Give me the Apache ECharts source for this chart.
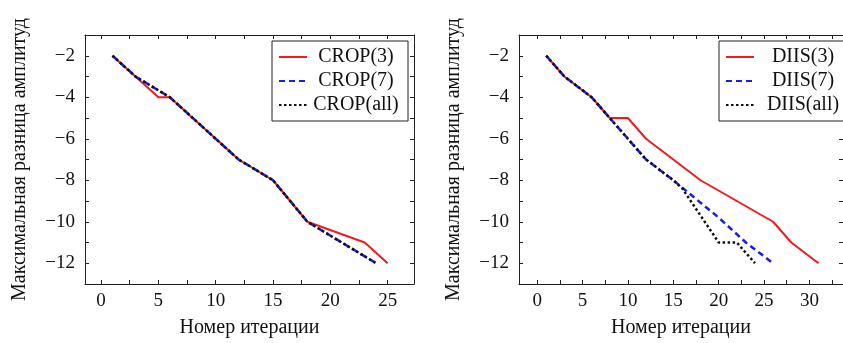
<!DOCTYPE html>
<html>
<head>
<meta charset="utf-8">
<script src="https://cdn.jsdelivr.net/npm/echarts@6/dist/echarts.min.js"></script>
<style>
  html, body { margin: 0; padding: 0; background: #fff; }
  #chart { width: 843px; height: 343px; }
</style>
</head>
<body>
<div id="chart"></div>
<script>
// данные
const cropNames = ['CROP(3)', 'CROP(7)', 'CROP(all)']
const diisNames = ['DIIS(3)', 'DIIS(7)', 'DIIS(all)']

const crop3Iter = [1, 3, 5, 6, 12, 15, 18, 23, 25]
const crop3Val = [-2, -3, -4, -4, -7, -8, -10, -11, -12]
const crop7Iter = [1, 3, 6, 12, 15, 18, 24]
const crop7Val = [-2, -3, -4, -7, -8, -10, -12]
const cropAllIter = [1, 3, 6, 12, 15, 18, 24]
const cropAllVal = [-2, -3, -4, -7, -8, -10, -12]

const diis3Iter = [1, 3, 6, 8, 10, 12, 18, 26, 28, 31]
const diis3Val = [-2, -3, -4, -5, -5, -6, -8, -10, -11, -12]
const diis7Iter = [1, 3, 6, 8, 12, 15, 20, 23, 26]
const diis7Val = [-2, -3, -4, -5, -7, -8, -9.8, -11, -12]
const diisAllIter = [1, 3, 6, 8, 12, 15, 16, 20, 22, 24]
const diisAllVal = [-2, -3, -4, -5, -7, -8, -8.4, -11, -11, -12]

const xLabelsLeft = [0, 5, 10, 15, 20, 25]
const xTicksLeft = [0, 2.5, 5, 7.5, 10, 12.5, 15, 17.5, 20, 22.5, 25]
const xLabelsRight = [0, 5, 10, 15, 20, 25, 30]
const xTicksRight = [0, 2.5, 5, 7.5, 10, 12.5, 15, 17.5, 20, 22.5, 25, 27.5, 30, 32.5]
const yLabels = [-12, -10, -8, -6, -4, -2]
const yTicks = [-13, -12, -11, -10, -9, -8, -7, -6, -5, -4, -3, -2, -1]

const zip = (xs, ys) => xs.map((x, i) => [x, ys[i]])

const FONT = 'Liberation Serif'
const AXIS_COLOR = '#222'
const colors = ['#ee1c1c', '#1c1ce8', '#111']
const lineTypes = ['solid', [6, 4], [2.5, 2.5]]
const lineWidths = [2, 2.5, 2.5]

const chart = echarts.init(document.getElementById('chart'))

const makeX = (gridIndex, min, max, labels, ticks, top) => ({
  type: 'value',
  gridIndex,
  min,
  max,
  position: top ? 'top' : 'bottom',
  name: top ? '' : 'Номер итерации',
  nameLocation: 'middle',
  nameGap: 34,
  nameTextStyle: { fontFamily: FONT, fontSize: 20, color: '#111' },
  axisLine: { show: true, onZero: false, lineStyle: { color: AXIS_COLOR, width: 1 } },
  axisTick: { show: true, inside: true, length: 4, customValues: ticks, lineStyle: { color: AXIS_COLOR } },
  axisLabel: {
    show: !top,
    customValues: labels,
    margin: 8,
    fontFamily: FONT,
    fontSize: 19,
    color: '#111'
  },
  splitLine: { show: false }
})

const makeY = (gridIndex, right) => ({
  type: 'value',
  gridIndex,
  min: -13,
  max: -1,
  position: right ? 'right' : 'left',
  name: right ? '' : 'Максимальная разница амплитуд',
  nameLocation: 'middle',
  nameGap: 55,
  nameTextStyle: { fontFamily: FONT, fontSize: 20, color: '#111' },
  axisLine: { show: true, onZero: false, lineStyle: { color: AXIS_COLOR, width: 1 } },
  axisTick: { show: true, inside: true, length: 4, customValues: yTicks, lineStyle: { color: AXIS_COLOR } },
  axisLabel: {
    show: !right,
    customValues: yLabels,
    margin: 10,
    fontFamily: FONT,
    fontSize: 19,
    color: '#111',
    formatter: (v) => String(v).replace('-', '\u2212')
  },
  splitLine: { show: false }
})

const makeSeries = (names, pairs, idx) =>
  names.map((name, i) => ({
    name,
    type: 'line',
    xAxisIndex: idx * 2,
    yAxisIndex: idx * 2,
    data: pairs[i],
    symbol: 'none',
    animation: false,
    z: 2 + i,
    lineStyle: { color: colors[i], width: lineWidths[i], type: lineTypes[i] },
    itemStyle: { color: colors[i] }
  }))

const makeLegend = (names, left) => ({
  data: names,
  orient: 'vertical',
  left,
  top: 41,
  backgroundColor: '#fff',
  borderColor: '#222',
  borderWidth: 1,
  padding: [6, 8, 6, 6],
  itemWidth: 28,
  itemHeight: 14,
  itemGap: 4,
  selectedMode: false,
  itemStyle: { opacity: 0 },
  formatter: '{c|{name}}',
  textStyle: {
    rich: {
      c: { width: 88, align: 'center', fontFamily: FONT, fontSize: 20, color: '#111', lineHeight: 22 }
    }
  }
})

const option = {
  animation: false,
  grid: [
    { left: 85, top: 35, width: 329, height: 254 },
    { left: 519, top: 35, width: 328, height: 254 }
  ],
  xAxis: [
    makeX(0, -1.4, 27.3, xLabelsLeft, xTicksLeft, false),
    makeX(0, -1.4, 27.3, xLabelsLeft, xTicksLeft, true),
    makeX(1, -2, 33.7, xLabelsRight, xTicksRight, false),
    makeX(1, -2, 33.7, xLabelsRight, xTicksRight, true)
  ],
  yAxis: [makeY(0, false), makeY(0, true), makeY(1, false), makeY(1, true)],
  legend: [makeLegend(cropNames, 272), makeLegend(diisNames, 719)],
  series: [
    ...makeSeries(cropNames, [zip(crop3Iter, crop3Val), zip(crop7Iter, crop7Val), zip(cropAllIter, cropAllVal)], 0),
    ...makeSeries(diisNames, [zip(diis3Iter, diis3Val), zip(diis7Iter, diis7Val), zip(diisAllIter, diisAllVal)], 1)
  ]
}

chart.setOption(option)
</script>
</body>
</html>
